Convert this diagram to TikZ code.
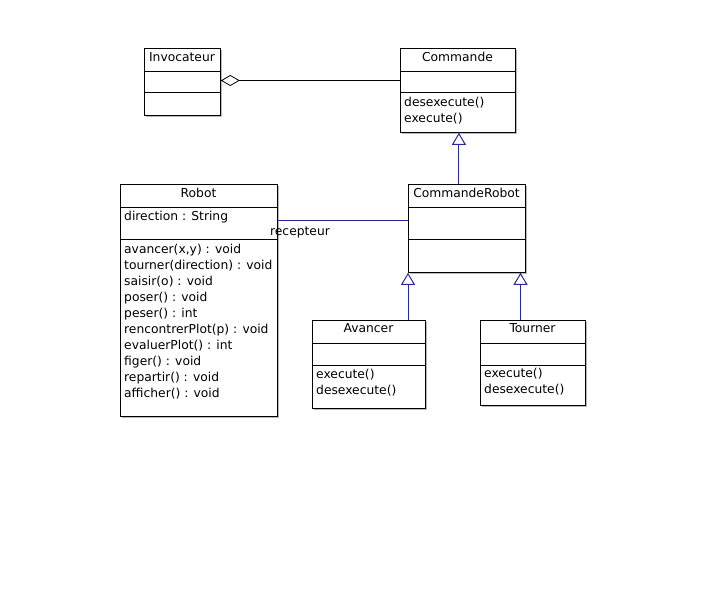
\documentclass[tikz,border=0pt]{standalone}
\usepackage{fontspec}
\setmainfont{DejaVu Sans}
\usetikzlibrary{shadows,arrows.meta}
\definecolor{linkblue}{RGB}{40,40,160}
\definecolor{shadowgray}{RGB}{185,185,185}
\begin{document}
\begin{tikzpicture}[x=1pt,y=-1pt,
  classbox/.style={draw=black, line width=0.8pt, fill=white, inner sep=0pt, anchor=north west,
    drop shadow={shadow xshift=2pt, shadow yshift=-2pt, fill=shadowgray, opacity=1}},
  txt/.style={font=\fontsize{12.3}{16}\selectfont, inner sep=0pt, text height=9pt, text depth=0.5pt},
  cname/.style={txt, anchor=center},
  item/.style={txt, anchor=west},
  sepline/.style={line width=0.8pt},
  link/.style={draw=linkblue, line width=1pt},
  inherit/.style={link, -{Triangle[open, width=14pt, length=12pt]}},
  aggr/.style={draw=black, line width=0.8pt, {Diamond[open, width=11pt, length=19pt]}-},
]
\useasboundingbox (0,0) rectangle (705,609);
\fill[white] (0,0) rectangle (705,609);

% Invocateur
\node[classbox, minimum width=76pt, minimum height=67pt] (inv) at (144,48) {};
\draw[sepline] (inv.west |- 0,71) -- (inv.east |- 0,71);
\draw[sepline] (inv.west |- 0,92) -- (inv.east |- 0,92);
\node[cname] (invn) at (182,57) {Invocateur};

% Commande
\node[classbox, minimum width=115pt, minimum height=84pt] (cmd) at (400,48) {};
\draw[sepline] (cmd.west |- 0,71) -- (cmd.east |- 0,71);
\draw[sepline] (cmd.west |- 0,92) -- (cmd.east |- 0,92);
\node[cname] (cmdn) at (457.5,57) {Commande};
\node[item] (cmd1) at (404,102) {desexecute()};
\node[item] (cmd2) at (404,118) {execute()};

% Robot
\node[classbox, minimum width=157pt, minimum height=232pt] (robot) at (120,184) {};
\draw[sepline] (robot.west |- 0,207) -- (robot.east |- 0,207);
\draw[sepline] (robot.west |- 0,239) -- (robot.east |- 0,239);
\node[cname] (robotn) at (198.5,193) {Robot};
\node[item] (ra) at (124,216) {direction : String};
\node[item] (r1) at (124,249) {avancer(x,y) : void};
\node[item] (r2) at (124,265) {tourner(direction) : void};
\node[item] (r3) at (124,281) {saisir(o) : void};
\node[item] (r4) at (124,297) {poser() : void};
\node[item] (r5) at (124,313) {peser() : int};
\node[item] (r6) at (124,329) {rencontrerPlot(p) : void};
\node[item] (r7) at (124,345) {evaluerPlot() : int};
\node[item] (r8) at (124,361) {figer() : void};
\node[item] (r9) at (124,377) {repartir() : void};
\node[item] (r10) at (124,393) {afficher() : void};

% CommandeRobot
\node[classbox, minimum width=117pt, minimum height=88pt] (crobot) at (408,184) {};
\draw[sepline] (crobot.west |- 0,207) -- (crobot.east |- 0,207);
\draw[sepline] (crobot.west |- 0,239) -- (crobot.east |- 0,239);
\node[cname] (crobotn) at (466.5,193) {CommandeRobot};

% Avancer
\node[classbox, minimum width=113pt, minimum height=88pt] (av) at (312,320) {};
\draw[sepline] (av.west |- 0,343) -- (av.east |- 0,343);
\draw[sepline] (av.west |- 0,365) -- (av.east |- 0,365);
\node[cname] (avn) at (368.5,328.5) {Avancer};
\node[item] (av1) at (316,374.5) {execute()};
\node[item] (av2) at (316,390.5) {desexecute()};

% Tourner
\node[classbox, minimum width=105pt, minimum height=85pt] (tr) at (480,320) {};
\draw[sepline] (tr.west |- 0,343) -- (tr.east |- 0,343);
\draw[sepline] (tr.west |- 0,365) -- (tr.east |- 0,365);
\node[cname] (trn) at (532.5,328.5) {Tourner};
\node[item] (tr1) at (484,373.5) {execute()};
\node[item] (tr2) at (484,389.5) {desexecute()};

% connectors
\draw[aggr] (inv.east |- 0,80.5) coordinate (aggA) -- (aggA -| cmd.west);
\path (cmd.south) ++(1,0) coordinate (cmdS);
\draw[inherit] (cmdS |- crobot.north) -- (cmdS);
\path (robot.north east) ++(0,36.5) coordinate (recA);
\draw[link] (recA) -- (recA -| crobot.west);
\node[txt, anchor=center] (recl) at (300,231) {recepteur};
\draw[inherit] (crobot.south west |- av.north) -- (crobot.south west);
\path (tr.north west) ++(40.5,0) coordinate (trA);
\draw[inherit] (trA) -- (trA |- crobot.south);
\end{tikzpicture}
\end{document}
